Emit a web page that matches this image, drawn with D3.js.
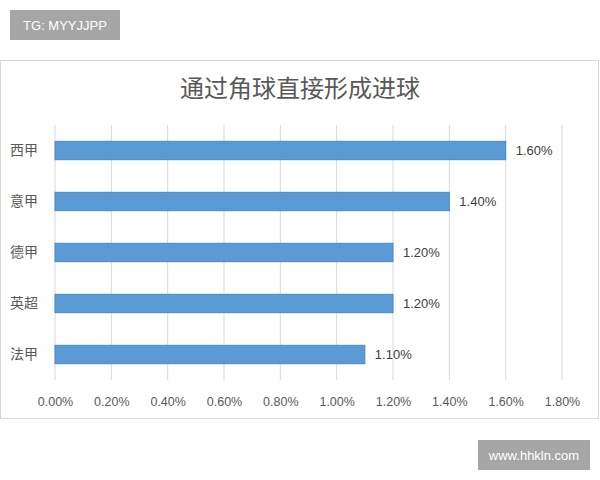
<!DOCTYPE html>
<html>
<head>
<meta charset="utf-8">
<script src="https://cdn.jsdelivr.net/npm/d3@7"></script>
<style>
  body { margin: 0; background: #fff; }
  svg { display: block; font-family: "Noto Sans CJK SC", "Microsoft YaHei", sans-serif; }
</style>
</head>
<body>
<div id="chart"></div>
<script>
// Data
const leagues = ["西甲", "意甲", "德甲", "英超", "法甲"];
const rates = [1.6, 1.4, 1.2, 1.2, 1.1];
const xTicks = [0, 0.2, 0.4, 0.6, 0.8, 1.0, 1.2, 1.4, 1.6, 1.8];
const title = "通过角球直接形成进球";

const width = 600, height = 480;
const svg = d3.select("#chart").append("svg")
    .attr("width", width)
    .attr("height", height);

// chart frame
svg.append("rect")
    .attr("x", 0.5).attr("y", 60.5)
    .attr("width", 598).attr("height", 358)
    .attr("fill", "#fff")
    .attr("stroke", "#d9d9d9");

// watermark badges
svg.append("rect").attr("x", 10).attr("y", 10).attr("width", 110).attr("height", 30).attr("fill", "#a6a6a6");
svg.append("text").attr("x", 65).attr("y", 30).attr("text-anchor", "middle")
    .attr("fill", "#fff").attr("font-size", 13).attr("font-family", "Liberation Sans, Arial, sans-serif")
    .text("TG: MYYJJPP");
svg.append("rect").attr("x", 478).attr("y", 440).attr("width", 112).attr("height", 30).attr("fill", "#a6a6a6");
svg.append("text").attr("x", 534).attr("y", 460).attr("text-anchor", "middle")
    .attr("fill", "#fff").attr("font-size", 13).attr("font-family", "Liberation Sans, Arial, sans-serif")
    .text("www.hhkln.com");

// title
svg.append("text")
    .attr("x", 300).attr("y", 97)
    .attr("text-anchor", "middle")
    .attr("font-size", 24)
    .attr("fill", "#595959")
    .text(title);

const plot = { left: 55, right: 562, top: 125, bottom: 380 };

const x = d3.scaleLinear()
    .domain([0, 1.8])
    .range([plot.left, plot.right]);

const y = d3.scaleBand()
    .domain(leagues)
    .range([plot.top, plot.bottom])
    .paddingInner(0.64)
    .paddingOuter(0.32);

// gridlines
svg.append("g")
    .selectAll("line")
    .data(xTicks)
    .join("line")
    .attr("x1", d => x(d)).attr("x2", d => x(d))
    .attr("y1", plot.top).attr("y2", plot.bottom)
    .attr("stroke", "#d9d9d9")
    .attr("stroke-width", 1);

// x axis labels
const xAxis = svg.append("g")
    .attr("transform", `translate(0,${plot.bottom + 14})`)
    .call(d3.axisBottom(x).tickValues(xTicks).tickFormat(d => d.toFixed(2) + "%").tickSize(0));
xAxis.select(".domain").remove();
xAxis.selectAll("text")
    .attr("font-size", 12.5)
    .attr("fill", "#595959")
    .attr("font-family", "Liberation Sans, Arial, sans-serif");

// y axis labels
const yAxis = svg.append("g")
    .attr("transform", `translate(${plot.left - 14},0)`)
    .call(d3.axisLeft(y).tickSize(0));
yAxis.select(".domain").remove();
yAxis.selectAll("text")
    .attr("font-size", 14)
    .attr("fill", "#595959")
    .attr("font-family", "Noto Sans CJK SC, sans-serif");

// bars
svg.append("g")
    .selectAll("rect")
    .data(leagues)
    .join("rect")
    .attr("x", x(0))
    .attr("y", d => y(d))
    .attr("width", (d, i) => x(rates[i]) - x(0))
    .attr("height", y.bandwidth())
    .attr("fill", "#5b9bd5")
    .attr("stroke", "#4a87c4")
    .attr("stroke-width", 1);

// value labels
svg.append("g")
    .selectAll("text")
    .data(leagues)
    .join("text")
    .attr("x", (d, i) => x(rates[i]) + 10)
    .attr("y", d => y(d) + y.bandwidth() / 2)
    .attr("dy", "0.35em")
    .attr("font-size", 13)
    .attr("fill", "#404040")
    .attr("font-family", "Liberation Sans, Arial, sans-serif")
    .text((d, i) => rates[i].toFixed(2) + "%");
</script>
</body>
</html>
